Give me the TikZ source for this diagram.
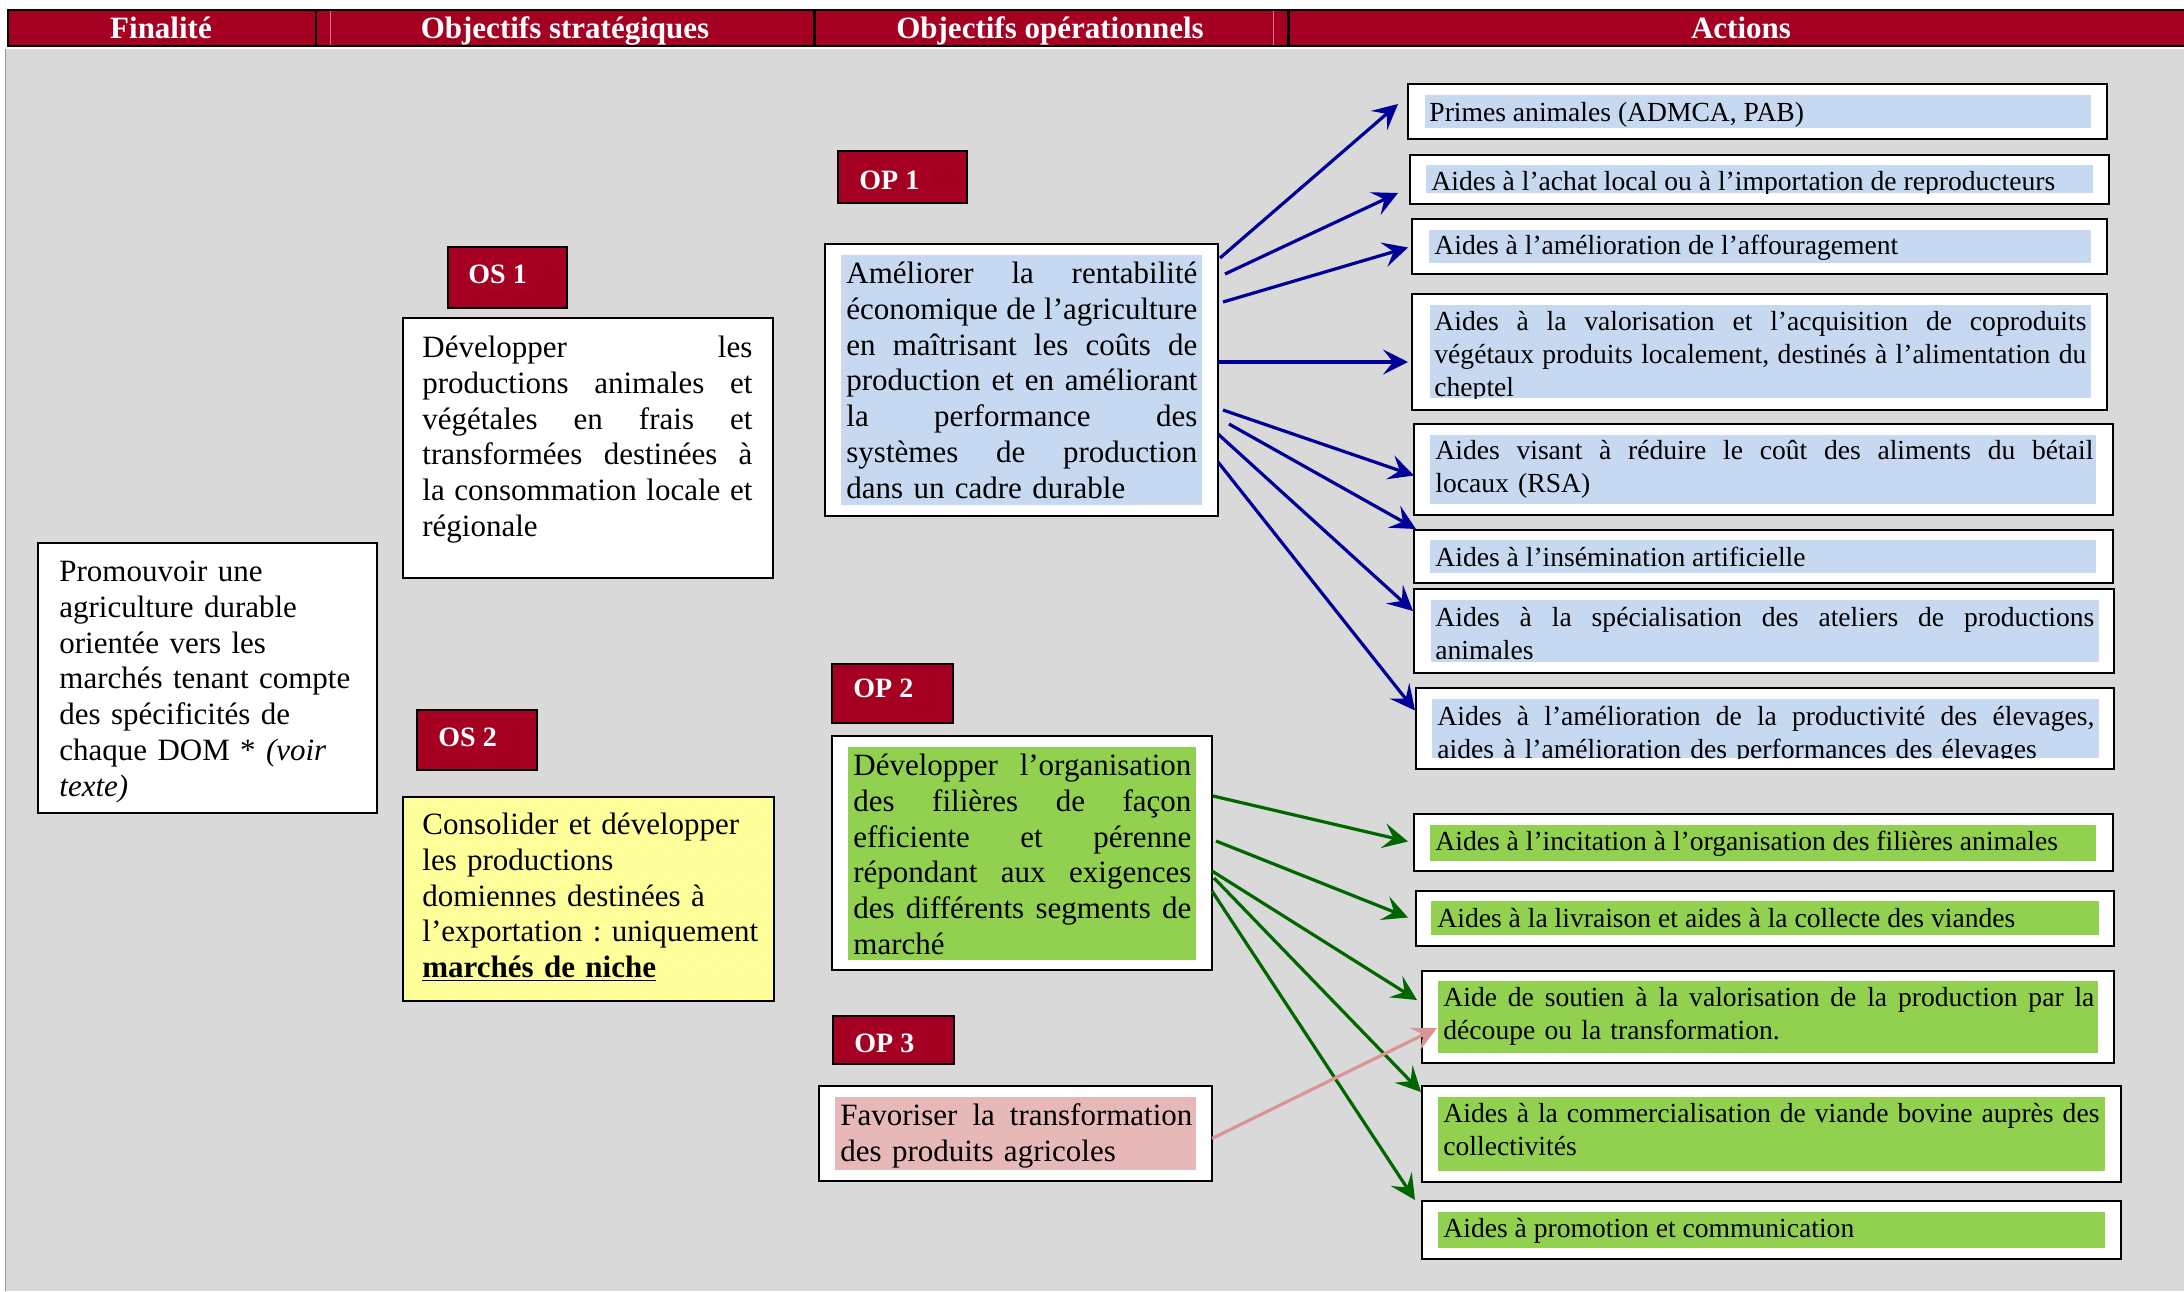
\documentclass[tikz,border=0pt]{standalone}
\usepackage{fontspec}
\setmainfont{Liberation Serif}
\usetikzlibrary{arrows.meta,calc,fit}

\definecolor{hdred}{RGB}{165,0,33}
\definecolor{bggray}{RGB}{217,217,217}
\definecolor{hlblue}{RGB}{198,217,241}
\definecolor{hlgreen}{RGB}{146,208,80}
\definecolor{hlpink}{RGB}{230,184,183}
\definecolor{osyellow}{RGB}{255,255,153}
\definecolor{osdot}{RGB}{255,255,215}
\definecolor{arrblue}{RGB}{0,0,153}
\definecolor{arrgreen}{RGB}{0,102,0}
\definecolor{arrpink}{RGB}{217,149,148}
\definecolor{hdline}{RGB}{230,110,130}

% one justified line of a paragraph, spread over the width \jw
\newlength{\jw}
\newcommand{\jl}[1]{\leavevmode\hbox to \jw{\frenchspacing\spaceskip=0.25em plus 1fil minus 0.05em\relax #1}}
\newcommand{\mainfs}{\fontsize{15.5pt}{17.9pt}\selectfont\frenchspacing}
\newcommand{\actfs}{\fontsize{13.8pt}{16.5pt}\selectfont\frenchspacing}
\newcommand{\mstrut}{\rule{0pt}{13pt}}
\newcommand{\astrut}{\rule{0pt}{11pt}}

\tikzset{
  frame/.style={draw=black, line width=1.3pt, fill=white, inner sep=0pt, outer sep=0pt},
  tag/.style={draw=black, line width=1pt, fill=hdred, inner sep=0pt, outer sep=0pt},
  tagtext/.style={anchor=base west, inner sep=0pt, text=white, font=\fontsize{14pt}{16pt}\selectfont\bfseries},
  headtext/.style={anchor=base, inner sep=0pt, text=white, font=\fontsize{15.5pt}{18pt}\selectfont\bfseries},
  bodytext/.style={anchor=north west, inner sep=0pt, align=left, font=\mainfs},
  acttext/.style={anchor=north west, inner sep=0pt, align=left, font=\actfs},
  actline/.style={anchor=base west, inner sep=0pt, font=\actfs},
  conn/.style={line width=1.6pt, -{Stealth[length=12.5pt,width=12.5pt,inset=5pt]}},
  blueconn/.style={conn, color=arrblue},
  greenconn/.style={conn, color=arrgreen},
  pinkconn/.style={conn, color=arrpink},
}

\begin{document}
\begin{tikzpicture}[x=0.5pt,y=-0.5pt]
\useasboundingbox (0,0) rectangle (2184,1291);

% page background
\fill[bggray] (5,49) rectangle (2184,1291);
\draw[gray!80, line width=0.6pt] (5.5,49) -- (5.5,1291);

% column header band
\fill[black] (7,9) rectangle (2184,47);
\fill[hdred] (9,11) rectangle (2184,45);
\fill[black] (314.5,11) rectangle (317,45);
\draw[hdline, line width=0.5pt] (330,11) -- (330,45);
\fill[black] (813,11) rectangle (815.5,45);
\draw[hdline, line width=0.5pt] (1273,11) -- (1273,45);
\fill[black] (1287,11) rectangle (1289.5,45);
\node[headtext] (h1) at (161,38) {Finalité};
\node[headtext] (h2) at (565,38) {Objectifs stratégiques};
\node[headtext] (h3) at (1050,38) {Objectifs opérationnels};
\node[headtext] (h4) at (1741,38) {Actions};

% finalité
\node[frame, fit={(38,543)(377,813)}] (fin) {};
\node[bodytext, text width=155pt] (fint) at (59,555) {\mstrut Promouvoir une\\ agriculture durable\\ orientée vers les\\ marchés tenant compte\\ des spécificités de\\ chaque DOM * \textit{(voir}\\ \textit{texte)}};

% strategic objectives
\node[tag, fit={(448,247)(567,308)}] (os1) {};
\node[tagtext] (os1t) at (468,283) {OS 1};
\node[frame, fit={(403,318)(773,578)}] (os1box) {};
\node[bodytext, text width=165pt] (os1txt) at (422,331) {\setlength{\jw}{165pt}\mstrut\jl{Développer les}\\ \jl{productions animales et}\\ \jl{végétales en frais et}\\ \jl{transformées destinées à}\\ \jl{la consommation locale et}\\ régionale};

\node[tag, fit={(417,710)(537,770)}] (os2) {};
\node[tagtext] (os2t) at (438,746) {OS 2};
\node[frame, fill=osyellow, fit={(403,797)(774,1001)}] (os2box) {};
\begin{scope}
  \clip (405,799) rectangle (772,999);
  \foreach \r in {0,...,20} {
    \foreach \c in {0,...,31} {
      \fill[osdot] ({410+12*\c+6*mod(\r,2)},{804+10*\r}) circle (1.1);
    }
  }
\end{scope}
\node[bodytext, text width=175pt] (os2txt) at (422,808) {\mstrut Consolider et développer\\ les productions\\ domiennes destinées à\\ l’exportation : uniquement\\ \textbf{\underline{marchés de niche}}};

% operational objectives
\node[tag, fit={(838,151)(967,203)}] (op1) {};
\node[tagtext] (op1t) at (859,189) {OP 1};
\node[frame, fit={(825,244)(1218,516)}] (op1box) {};
\fill[hlblue] (841,255) rectangle (1202,505);
\node[bodytext, text width=175.5pt] (op1txt) at (846,257) {\setlength{\jw}{175.5pt}\mstrut\jl{Améliorer la rentabilité}\\ \jl{économique de l’agriculture}\\ \jl{en maîtrisant les coûts de}\\ \jl{production et en améliorant}\\ \jl{la performance des}\\ \jl{systèmes de production}\\ dans un cadre durable};

\node[tag, fit={(832,664)(953,723)}] (op2) {};
\node[tagtext] (op2t) at (853,697) {OP 2};
\node[frame, fit={(832,736)(1212,970)}] (op2box) {};
\fill[hlgreen] (848,747) rectangle (1196,960);
\node[bodytext, text width=169pt] (op2txt) at (853,749) {\setlength{\jw}{169pt}\mstrut\jl{Développer l’organisation}\\ \jl{des filières de façon}\\ \jl{efficiente et pérenne}\\ \jl{répondant aux exigences}\\ \jl{des différents segments de}\\ marché};

\node[tag, fit={(833,1016)(954,1064)}] (op3) {};
\node[tagtext] (op3t) at (854,1052) {OP 3};
\node[frame, fit={(819,1086)(1212,1181)}] (op3box) {};
\fill[hlpink] (835,1097) rectangle (1196,1170);
\node[bodytext, text width=176pt] (op3txt) at (840,1099) {\setlength{\jw}{176pt}\mstrut\jl{Favoriser la transformation}\\ des produits agricoles};

% actions
\node[frame, fit={(1408,84)(2107,139)}] (a1) {};
\begin{scope}
  \clip (1425,95) rectangle (2091,128);
  \fill[hlblue] (1425,95) rectangle (2091,128);
  \node[actline] (a1t) at (1429,121) {Primes animales (ADMCA, PAB)};
\end{scope}

\node[frame, fit={(1410,155)(2109,204)}] (a2) {};
\begin{scope}
  \clip (1426,165) rectangle (2093,193);
  \fill[hlblue] (1426,165) rectangle (2093,193);
  \node[actline] (a2t) at (1431,190) {Aides à l’achat local ou à l’importation de reproducteurs};
\end{scope}

\node[frame, fit={(1412,219)(2107,274)}] (a3) {};
\begin{scope}
  \clip (1429,230) rectangle (2091,263);
  \fill[hlblue] (1429,230) rectangle (2091,263);
  \node[actline] (a3t) at (1434,254) {Aides à l’amélioration de l’affouragement};
\end{scope}

\node[frame, fit={(1412,294)(2107,410)}] (a4) {};
\begin{scope}
  \clip (1430,305) rectangle (2091,398);
  \fill[hlblue] (1430,305) rectangle (2091,398);
  \node[acttext, text width=326pt] (a4t) at (1434,308) {\setlength{\jw}{326pt}\astrut\jl{Aides à la valorisation et l’acquisition de coproduits}\\ \jl{végétaux produits localement, destinés à l’alimentation du}\\ cheptel};
\end{scope}

\node[frame, fit={(1414,424)(2113,515)}] (a5) {};
\begin{scope}
  \clip (1430,435) rectangle (2096,504);
  \fill[hlblue] (1430,435) rectangle (2096,504);
  \node[acttext, text width=329pt] (a5t) at (1435,437) {\setlength{\jw}{329pt}\astrut\jl{Aides visant à réduire le coût des aliments du bétail}\\ locaux (RSA)};
\end{scope}

\node[frame, fit={(1414,530)(2113,583)}] (a6) {};
\begin{scope}
  \clip (1430,540) rectangle (2096,573);
  \fill[hlblue] (1430,540) rectangle (2096,573);
  \node[actline] (a6t) at (1435,566) {Aides à l’insémination artificielle};
\end{scope}

\node[frame, fit={(1414,589)(2114,673)}] (a7) {};
\begin{scope}
  \clip (1431,600) rectangle (2099,662);
  \fill[hlblue] (1431,600) rectangle (2099,662);
  \node[acttext, text width=329.5pt] (a7t) at (1435,604) {\setlength{\jw}{329.5pt}\astrut\jl{Aides à la spécialisation des ateliers de productions}\\ animales};
\end{scope}

\node[frame, fit={(1416,688)(2114,769)}] (a8) {};
\begin{scope}
  \clip (1432,699) rectangle (2099,758);
  \fill[hlblue] (1432,699) rectangle (2099,758);
  \node[acttext, text width=328.5pt] (a8t) at (1437,703) {\setlength{\jw}{328.5pt}\astrut\jl{Aides à l’amélioration de la productivité des élevages,}\\ aides à l’amélioration des performances des élevages};
\end{scope}

\node[frame, fit={(1414,814)(2113,871)}] (a9) {};
\begin{scope}
  \clip (1430,825) rectangle (2096,861);
  \fill[hlgreen] (1430,825) rectangle (2096,861);
  \node[actline] (a9t) at (1435,850) {Aides à l’incitation à l’organisation des filières animales};
\end{scope}

\node[frame, fit={(1416,891)(2114,946)}] (a10) {};
\begin{scope}
  \clip (1431,901) rectangle (2099,935);
  \fill[hlgreen] (1431,901) rectangle (2099,935);
  \node[actline] (a10t) at (1437,927) {Aides à la livraison et aides à la collecte des viandes};
\end{scope}

\node[frame, fit={(1422,971)(2114,1063)}] (a11) {};
\begin{scope}
  \clip (1438,981) rectangle (2098,1053);
  \fill[hlgreen] (1438,981) rectangle (2098,1053);
  \node[acttext, text width=325.5pt] (a11t) at (1443,984) {\setlength{\jw}{325.5pt}\astrut\jl{Aide de soutien à la valorisation de la production par la}\\ découpe ou la transformation.};
\end{scope}

\node[frame, fit={(1422,1086)(2121,1182)}] (a12) {};
\begin{scope}
  \clip (1438,1097) rectangle (2105,1171);
  \fill[hlgreen] (1438,1097) rectangle (2105,1171);
  \node[acttext, text width=328pt] (a12t) at (1443,1100) {\setlength{\jw}{328pt}\astrut\jl{Aides à la commercialisation de viande bovine auprès des}\\ collectivités};
\end{scope}

\node[frame, fit={(1422,1201)(2121,1259)}] (a13) {};
\begin{scope}
  \clip (1438,1212) rectangle (2105,1248);
  \fill[hlgreen] (1438,1212) rectangle (2105,1248);
  \node[actline] (a13t) at (1443,1237) {Aides à promotion et communication};
\end{scope}

% connectors from OP 1
\draw[blueconn] ($(op1box.north east)+(2,14)$) -- ($(a1.north west)+(-10,20)$);
\draw[blueconn] ($(op1box.north east)+(7,30)$) -- ($(a2.south west)+(-12,-11)$);
\draw[blueconn] ($(op1box.north east)+(5,58)$) -- ($(a3.west)+(-4,1)$);
\draw[blueconn] ($(op1box.east)+(0,-18)$) -- ($(a4.west)+(-4,10)$);
\draw[blueconn] ($(op1box.east)+(5,30)$) -- ($(a5.west)+(0,6)$);
\draw[blueconn] ($(op1box.east)+(11,44)$) -- ($(a6.north west)+(2,-1)$);
\draw[blueconn] ($(op1box.east)+(0,54)$) -- ($(a7.west)+(-1,-20)$);
\draw[blueconn] ($(op1box.east)+(0,82)$) -- ($(a8.west)+(-1,-18)$);

% connectors from OP 2
\draw[greenconn] ($(op2box.east)+(1,-57)$) -- ($(a9.west)+(-6,-1)$);
\draw[greenconn] ($(op2box.east)+(4,-12)$) -- ($(a10.west)+(-8,-1)$);
\draw[greenconn] ($(op2box.east)+(0,18)$) -- ($(a11.west)+(-5,-17)$);
\draw[greenconn] ($(op2box.east)+(2,25)$) -- ($(a12.north west)+(-1,6)$);
\draw[greenconn] ($(op2box.east)+(0,38)$) -- ($(a13.north west)+(-7,-1)$);

% connector from OP 3
\draw[pinkconn] ($(op3box.east)+(0,5)$) -- ($(a11.west)+(15,11)$);

\end{tikzpicture}
\end{document}
